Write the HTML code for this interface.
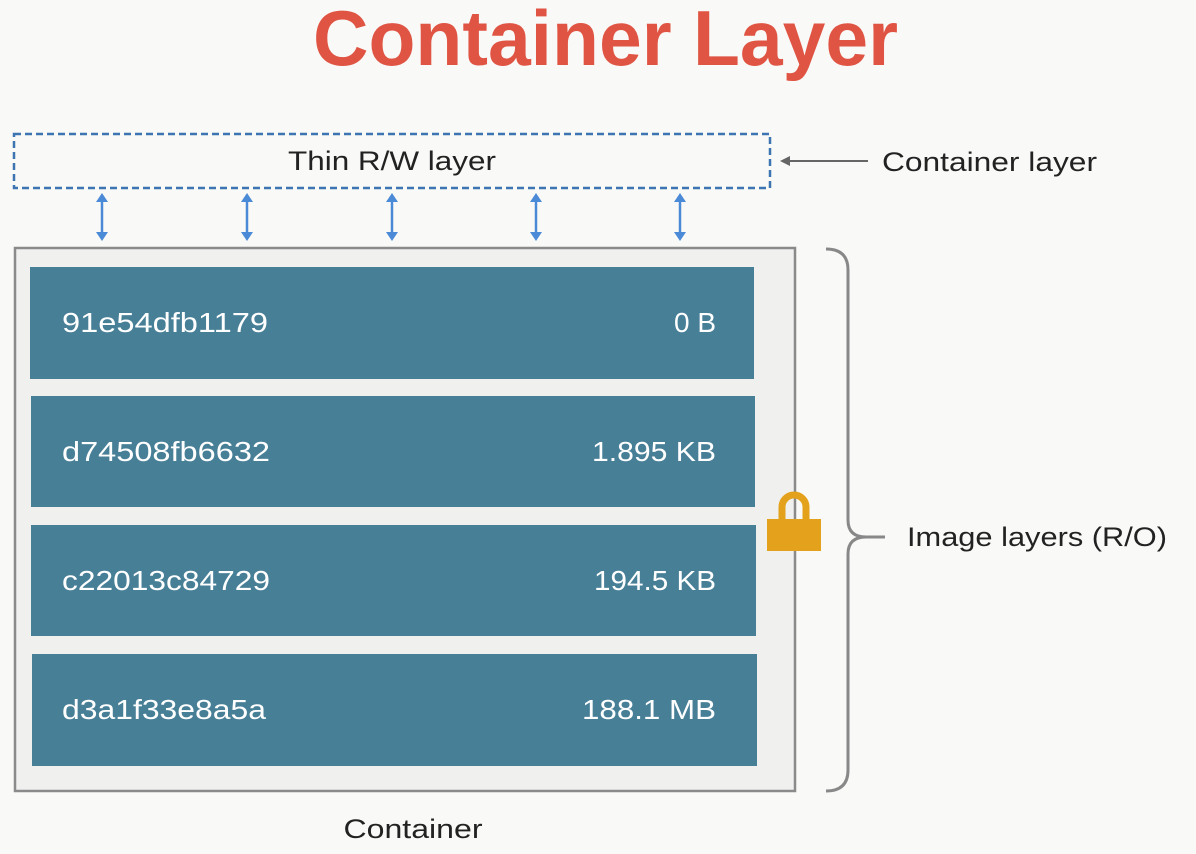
<!DOCTYPE html>
<html><head><meta charset="utf-8"><style>
html,body{margin:0;padding:0;background:#f9f9f7;}
svg{display:block}
text{font-family:"Liberation Sans","DejaVu Sans",sans-serif;}
</style></head><body>
<svg width="1196" height="854" viewBox="0 0 1196 854" xmlns="http://www.w3.org/2000/svg">
<rect width="1196" height="854" fill="#f9f9f7"/>
<text x="313" y="65" font-size="78" font-weight="bold" fill="#e05443" textLength="585" lengthAdjust="spacingAndGlyphs">Container Layer</text>

<rect x="14" y="134" width="756" height="54" fill="none" stroke="#3d74b2" stroke-width="2.5" stroke-dasharray="7,4"/>
<text x="392" y="170" font-size="27" fill="#222" text-anchor="middle" textLength="208" lengthAdjust="spacingAndGlyphs">Thin R/W layer</text>

<g stroke="#4a8ad6" stroke-width="2.5" fill="#4a8ad6">
<line x1="102" y1="200" x2="102" y2="234"/><path d="M96,202 L102,193 L108,202Z M96,232 L102,241 L108,232Z" stroke="none"/>
<line x1="247" y1="200" x2="247" y2="234"/><path d="M241,202 L247,193 L253,202Z M241,232 L247,241 L253,232Z" stroke="none"/>
<line x1="392" y1="200" x2="392" y2="234"/><path d="M386,202 L392,193 L398,202Z M386,232 L392,241 L398,232Z" stroke="none"/>
<line x1="536" y1="200" x2="536" y2="234"/><path d="M530,202 L536,193 L542,202Z M530,232 L536,241 L542,232Z" stroke="none"/>
<line x1="680" y1="200" x2="680" y2="234"/><path d="M674,202 L680,193 L686,202Z M674,232 L680,241 L686,232Z" stroke="none"/>
</g>

<line x1="868" y1="161" x2="788" y2="161" stroke="#666" stroke-width="2"/>
<path d="M780,161 L790,156 L790,166Z" fill="#666"/>
<text x="882" y="171" font-size="27" fill="#222" textLength="215" lengthAdjust="spacingAndGlyphs">Container layer</text>

<rect x="15" y="248" width="780" height="543" fill="#f0f0ef" stroke="#8a8a8a" stroke-width="2.5"/>

<g fill="#477f97">
<rect x="30" y="267" width="724" height="112"/>
<rect x="31" y="396" width="724" height="111"/>
<rect x="31" y="525" width="725" height="111"/>
<rect x="32" y="654" width="725" height="112"/>
</g>
<g font-size="28" fill="#fff">
<text x="62" y="332" textLength="206" lengthAdjust="spacingAndGlyphs">91e54dfb1179</text>
<text x="716" y="332" text-anchor="end">0 B</text>
<text x="62" y="461" textLength="208" lengthAdjust="spacingAndGlyphs">d74508fb6632</text>
<text x="716" y="461" text-anchor="end" textLength="124" lengthAdjust="spacingAndGlyphs">1.895 KB</text>
<text x="62" y="590" textLength="208" lengthAdjust="spacingAndGlyphs">c22013c84729</text>
<text x="716" y="590" text-anchor="end" textLength="122" lengthAdjust="spacingAndGlyphs">194.5 KB</text>
<text x="62" y="719" textLength="204" lengthAdjust="spacingAndGlyphs">d3a1f33e8a5a</text>
<text x="716" y="719" text-anchor="end" textLength="134" lengthAdjust="spacingAndGlyphs">188.1 MB</text>
</g>

<path d="M782,524 L782,507 A12,12 0 0 1 806,507 L806,524" fill="none" stroke="#e4a21c" stroke-width="7"/>
<rect x="767" y="519" width="54" height="32" fill="#e4a21c"/>

<path d="M826,249 Q848,249 848,270 L848,520 Q848,537 866,537 Q848,537 848,554 L848,770 Q848,791 826,791" fill="none" stroke="#888" stroke-width="3"/>
<line x1="866" y1="537" x2="885" y2="537" stroke="#888" stroke-width="3"/>
<text x="907" y="546" font-size="27" fill="#222" textLength="260" lengthAdjust="spacingAndGlyphs">Image layers (R/O)</text>

<text x="413" y="838" font-size="27" fill="#222" text-anchor="middle" textLength="139" lengthAdjust="spacingAndGlyphs">Container</text>
</svg>
</body></html>
